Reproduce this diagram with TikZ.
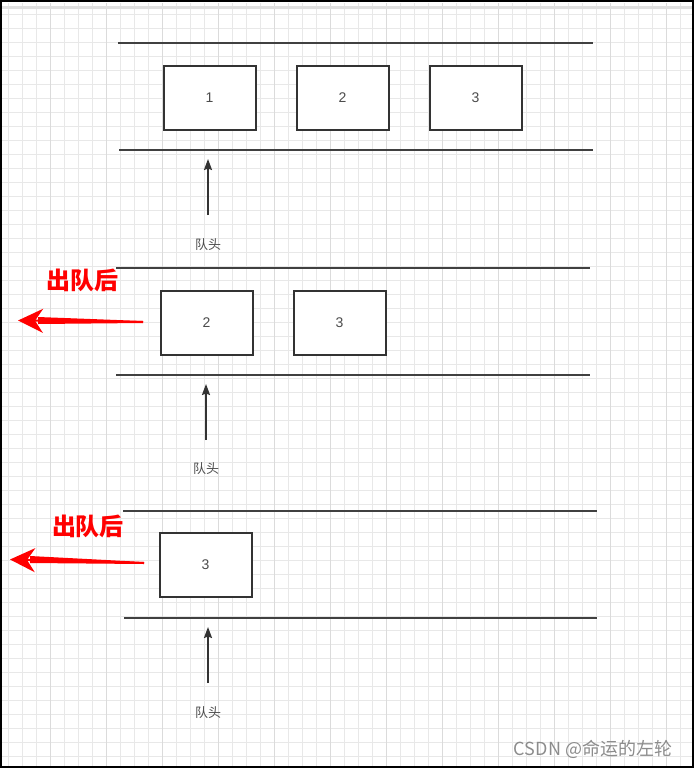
\documentclass[tikz,border=0pt]{standalone}
\usepackage{fontspec}
\setmainfont{Liberation Sans}
\newfontfamily\cjk{Noto Sans CJK SC}
\usetikzlibrary{arrows.meta, positioning, calc}

\begin{document}
\begin{tikzpicture}[x=1pt, y=-1pt,
      slot/.style={draw=black!80, line width=2pt, minimum width=92pt,
                   minimum height=64pt, fill=white, text=black!70,
                   font=\fontsize{14}{14}\selectfont},
      rail/.style={black!75, line width=1.8pt},
      headarrow/.style={-{Stealth[length=11pt, width=8pt, inset=1.5pt]},
                   black!80, line width=1.8pt},
      outarrow/.style={-{Stealth[length=25pt, width=24pt, inset=8pt]},
                   red, line width=2pt},
      headlabel/.style={text=black!70, font=\cjk\fontsize{13}{13}\selectfont},
      outlabel/.style={text=red, font=\cjk\bfseries\fontsize{24}{24}\selectfont}
    ]
    \useasboundingbox (0,0) rectangle (695,769);
    % grid
    \foreach \x in {0,...,48} \draw[black!9, line width=1pt] (8.5+14*\x,3) -- (8.5+14*\x,767);
    \foreach \y in {1,...,54} \draw[black!9, line width=1pt] (1,14*\y) -- (693,14*\y);
    \foreach \x in {0,...,11} \draw[black!14, line width=1pt] (50.5+56*\x,3) -- (50.5+56*\x,767);
    \draw[black!12, line width=3pt] (1,7) -- (693,7);
    \draw[black, line width=1.5pt] (1,1) rectangle (693,767);

    % first queue
    \draw[rail] (118,43) -- (593,43);
    \draw[rail] (119,150) -- (593,150);
    \node[slot] (a1) at (209.5,97.5) {1};
    \node[slot] (a2) at (342.5,97.5) {2};
    \node[slot] (a3) at (475.5,97.5) {3};
    \coordinate (foota) at (208,215);
    \coordinate (tipa) at (208,159);
    \draw[headarrow] (foota) -- (tipa);
    \node[headlabel] (laba) at (208,245) {队头};

    % after one dequeue
    \draw[rail] (116,268) -- (590,268);
    \draw[rail] (116,375) -- (590,375);
    \node[slot] (b2) at (206.5,322.5) {2};
    \node[slot] (b3) at (339.5,322.5) {3};
    \coordinate (footb) at (206,440);
    \coordinate (tipb) at (206,384);
    \draw[headarrow] (footb) -- (tipb);
    \node[headlabel] (labb) at (206,469) {队头};
    \node[outlabel] (outb) at (82,280) {出队后};
    \coordinate (tailb) at (143,322);
    \coordinate (endb) at (18,320.5);
    \fill[red] ($(tailb)+(0,-1)$) -- ($(endb)+(20,-3.5)$) -- ($(endb)+(20,3.5)$) -- ($(tailb)+(0,1)$) -- cycle;
    \draw[outarrow] (tailb) -- (endb);

    % after two dequeues
    \draw[rail] (123,511) -- (597,511);
    \draw[rail] (124,618) -- (597,618);
    \node[slot] (c3) at (205.5,564.5) {3};
    \coordinate (footc) at (208,683);
    \coordinate (tipc) at (208,627);
    \draw[headarrow] (footc) -- (tipc);
    \node[headlabel] (labc) at (208,713) {队头};
    \node[outlabel] (outc) at (88,526) {出队后};
    \coordinate (tailc) at (144,563);
    \coordinate (endc) at (10,559.5);
    \fill[red] ($(tailc)+(0,-1)$) -- ($(endc)+(20,-3.5)$) -- ($(endc)+(20,3.5)$) -- ($(tailc)+(0,1)$) -- cycle;
    \draw[outarrow] (tailc) -- (endc);

    \node[text=black!45, font=\cjk\fontsize{18}{18}\selectfont] (mark) at (593,749) {CSDN @命运的左轮};
  \end{tikzpicture}
\end{document}
